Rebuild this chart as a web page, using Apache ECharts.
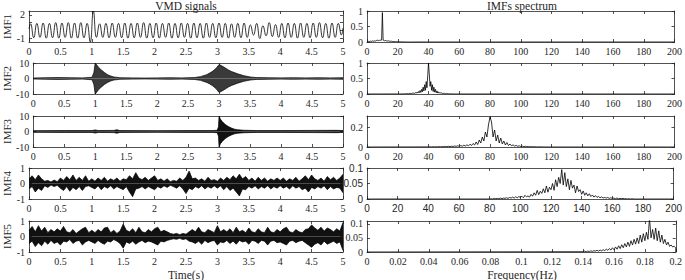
<!DOCTYPE html>
<html>
<head>
<meta charset="utf-8">
<script src="https://cdn.jsdelivr.net/npm/echarts@6/dist/echarts.min.js"></script>
<style>
  html, body { margin: 0; padding: 0; background: #fff; }
  #chart { width: 685px; height: 280px; }
</style>
</head>
<body>
<div id="chart"></div>
<script>
// ---- data ----
const timeTicks = [0, 0.5, 1, 1.5, 2, 2.5, 3, 3.5, 4, 4.5, 5];
const freqTicks = [0, 20, 40, 60, 80, 100, 120, 140, 160, 180, 200];
const normFreqTicks = [0, 0.02, 0.04, 0.06, 0.08, 0.1, 0.12, 0.14, 0.16, 0.18, 0.2];
const imfNames = ['IMF1', 'IMF2', 'IMF3', 'IMF4', 'IMF5'];

// IMF1: successive peaks / troughs, one every 0.05 s (10 Hz)
const imf1Extrema = [
  0.85, -0.95, 0.9, -0.9, 0.95, -1.0, 0.9, -0.95, 1.0, -1.0,
  0.95, -0.9, 1.0, -1.0, 0.95, -1.0, 1.0, -0.95, 0.9, -1.5,
  2.5, -0.9, 0.85, -0.9, 0.9, -0.95, 0.95, -0.9, 0.9, -0.95,
  0.95, -1.0, 0.9, -0.95, 0.95, -0.9, 1.0, -1.0, 0.9, -0.95,
  0.95, -1.0, 0.9, -0.9, 0.95, -1.0, 0.9, -0.95, 0.95, -0.9,
  0.9, -1.0, 0.95, -0.95, 0.9, -1.0, 0.95, -0.9, 0.9, -0.95,
  0.95, -0.9, 0.9, -1.0, 0.85, -0.9, 0.9, -0.95, 0.95, -0.9,
  0.7, -0.6, 0.9, -1.05, 0.6, -0.7, 1.0, -0.8, 0.75, -0.9,
  0.9, -0.95, 0.95, -0.9, 0.9, -1.0, 0.95, -0.9, 0.9, -0.95,
  0.95, -0.9, 1.0, -0.95, 0.9, -1.0, 0.95, -0.9, 0.9, -0.6
];

// IMF2 / IMF3: envelope knots (time, amplitude)
const imf2Times = [0, 0.2, 0.4, 0.6, 0.8, 0.95, 0.98, 1.0, 1.03, 1.06, 1.1, 1.15, 1.2, 1.25, 1.3, 1.4,
  1.6, 1.8, 2.0, 2.2, 2.4, 2.6, 2.7, 2.8, 2.85, 2.9, 2.95, 3.0, 3.05, 3.1, 3.15, 3.2, 3.3, 3.4, 3.5,
  3.6, 3.8, 4.0, 4.2, 4.4, 4.6, 4.8, 5.0];
const imf2Amp = [0.3, 0.5, 0.6, 0.5, 0.4, 0.8, 4, 10, 8.5, 7, 5.5, 3.8, 2.5, 1.6, 1, 0.5,
  0.4, 0.3, 0.4, 0.5, 0.4, 0.6, 1.2, 2.5, 3.5, 4.8, 6.5, 9, 8, 6.8, 5.5, 4.5, 3, 1.8, 1,
  0.6, 0.5, 0.4, 0.5, 0.4, 0.5, 0.4, 0.5];

const imf3Times = [0, 0.5, 0.95, 1.0, 1.05, 1.3, 1.35, 1.4, 2.0, 2.5, 2.9, 2.97, 2.99, 3.0, 3.02,
  3.05, 3.1, 3.15, 3.2, 3.25, 3.3, 3.4, 3.6, 4.0, 4.5, 4.9, 5.0];
const imf3Amp = [0.55, 0.6, 0.6, 1.0, 0.6, 0.7, 1.1, 0.6, 0.55, 0.6, 0.6, 0.8, 3, 10, 8,
  6.5, 4.5, 3.2, 2.2, 1.5, 1.1, 0.8, 0.6, 0.6, 0.7, 0.75, 0.6];

// IMF4 / IMF5: upper and lower envelope, one value every 0.05 s
const imf4Upper = [
  0.3, 0.5, 0.25, 0.55, 0.3, 0.15, 0.2, 0.1, 0.22, 0.12, 0.35, 0.2, 0.45, 0.25, 0.55, 0.2, 0.4, 0.2, 0.5, 0.15,
  0.3, 0.15, 0.35, 0.2, 0.4, 0.15, 0.3, 0.2, 0.35, 0.15, 0.3, 0.25, 0.5, 0.3, 0.7, 0.35, 0.25, 0.4, 0.2, 0.35,
  0.5, 0.2, 0.3, 0.15, 0.3, 0.12, 0.2, 0.15, 0.35, 0.2, 0.4, 0.8, 0.3, 0.35, 0.2, 0.3, 0.15, 0.4, 0.2, 0.25,
  0.15, 0.35, 0.2, 0.4, 0.25, 0.5, 0.3, 0.6, 0.3, 0.45, 0.2, 0.35, 0.15, 0.4, 0.2, 0.35, 0.15, 0.3, 0.2, 0.35,
  0.2, 0.35, 0.15, 0.3, 0.2, 0.4, 0.15, 0.3, 0.5, 0.25, 0.55, 0.3, 0.2, 0.35, 0.15, 0.45, 0.25, 0.4, 0.2, 0.35, 0.6
];
const imf4Lower = [
  -0.35, -0.2, -0.55, -0.3, -0.45, -0.15, -0.25, -0.1, -0.2, -0.12, -0.3, -0.45, -0.2, -0.5, -0.25, -0.4, -0.2, -0.45, -0.2, -0.15,
  -0.25, -0.35, -0.15, -0.4, -0.2, -0.3, -0.15, -0.35, -0.2, -0.3, -0.4, -0.2, -0.55, -0.85, -0.35, -0.3, -0.2, -0.35, -0.2, -0.3,
  -0.4, -0.2, -0.3, -0.15, -0.25, -0.12, -0.2, -0.3, -0.15, -0.35, -0.65, -0.3, -0.4, -0.2, -0.3, -0.15, -0.35, -0.2, -0.3, -0.15,
  -0.3, -0.15, -0.4, -0.2, -0.45, -0.3, -0.55, -0.8, -0.35, -0.4, -0.2, -0.3, -0.15, -0.35, -0.2, -0.3, -0.15, -0.35, -0.2, -0.3,
  -0.15, -0.3, -0.2, -0.35, -0.15, -0.3, -0.2, -0.4, -0.3, -0.55, -0.25, -0.35, -0.2, -0.3, -0.15, -0.4, -0.2, -0.35, -0.25, -0.3, -0.6
];
const imf5Upper = [
  0.4, 0.65, 0.3, 0.7, 0.35, 0.6, 0.25, 0.45, 0.3, 0.5, 0.35, 0.65, 0.3, 0.25, 0.45, 0.2, 0.35, 0.5, 0.6, 0.25,
  0.4, 0.25, 0.45, 0.3, 0.55, 0.6, 0.25, 0.4, 0.2, 0.35, 0.8, 0.4, 0.3, 0.5, 0.25, 0.6, 0.3, 0.25, 0.45, 0.3,
  0.5, 0.6, 0.3, 0.4, 0.3, 0.2, 0.15, 0.2, 0.12, 0.2, 0.15, 0.3, 0.45, 0.3, 0.6, 0.3, 0.25, 0.45, 0.35, 0.25,
  0.7, 0.3, 0.45, 0.3, 0.5, 0.25, 0.6, 0.3, 0.4, 0.25, 0.55, 0.3, 0.25, 0.5, 0.3, 0.25, 0.6, 0.3, 0.25, 0.45,
  0.3, 0.5, 0.6, 0.3, 0.25, 0.45, 0.3, 0.25, 0.45, 0.5, 0.75, 0.55, 0.4, 0.6, 0.35, 0.55, 0.45, 0.3, 0.5, 0.35, 0.9
];
const imf5Lower = [
  -0.45, -0.3, -0.65, -0.4, -0.6, -0.3, -0.5, -0.25, -0.45, -0.35, -0.55, -0.3, -0.35, -0.2, -0.45, -0.3, -0.25, -0.55, -0.35, -0.25,
  -0.35, -0.45, -0.25, -0.4, -0.5, -0.3, -0.35, -0.2, -0.3, -0.45, -0.75, -0.35, -0.45, -0.3, -0.5, -0.35, -0.25, -0.4, -0.3, -0.35,
  -0.45, -0.55, -0.3, -0.35, -0.25, -0.2, -0.15, -0.18, -0.12, -0.2, -0.15, -0.3, -0.35, -0.45, -0.3, -0.5, -0.25, -0.4, -0.3, -0.25,
  -0.55, -0.35, -0.4, -0.25, -0.45, -0.3, -0.5, -0.25, -0.35, -0.3, -0.5, -0.25, -0.3, -0.45, -0.25, -0.3, -0.55, -0.3, -0.25, -0.4,
  -0.35, -0.45, -0.55, -0.3, -0.25, -0.4, -0.3, -0.25, -0.4, -0.55, -0.7, -0.5, -0.4, -0.55, -0.3, -0.5, -0.4, -0.3, -0.45, -0.35, -0.9
];

// spectra: start frequency, step, magnitudes
const spec1Start = 0, spec1Step = 0.5;
const spec1Vals = [
  0, 0.01, 0.02, 0.015, 0.03, 0.02, 0.02, 0.035, 0.03, 0.02, 0.04, 0.03, 0.05, 0.04, 0.06, 0.045, 0.05, 0.07, 0.05, 0.06,
  0.95, 0.06, 0.05, 0.04, 0.05, 0.035, 0.04, 0.03, 0.04, 0.025, 0.03, 0.02, 0.025, 0.015, 0.02, 0.012, 0.015, 0.01, 0.012, 0.008,
  0.01, 0.007, 0.008, 0.005, 0.006, 0.004, 0.005, 0.003, 0.003, 0.002, 0.002, 0.001, 0.001, 0, 0, 0, 0, 0, 0, 0, 0
];
const spec2Start = 20, spec2Step = 0.5;
const spec2Vals = [
  0.002, 0.004, 0.002, 0.005, 0.003, 0.006, 0.004, 0.008, 0.005, 0.01, 0.006, 0.012, 0.008, 0.015, 0.01, 0.018, 0.012, 0.022, 0.015, 0.028,
  0.018, 0.035, 0.02, 0.045, 0.025, 0.06, 0.03, 0.08, 0.04, 0.11, 0.05, 0.15, 0.07, 0.22, 0.1, 0.3, 0.12, 0.4, 0.2, 0.6,
  1.0,
  0.65, 0.25, 0.4, 0.12, 0.3, 0.08, 0.22, 0.06, 0.15, 0.04, 0.1, 0.03, 0.07, 0.025, 0.05, 0.02, 0.04, 0.015, 0.03, 0.012,
  0.022, 0.01, 0.016, 0.008, 0.012, 0.006, 0.009, 0.005, 0.007, 0.004, 0.005, 0.003, 0.004, 0.002, 0.003, 0.002, 0.002, 0.001, 0.001, 0.001
];
const spec3Start = 40, spec3Step = 1;
const spec3Vals = [
  0.001, 0.002, 0.001, 0.003, 0.001, 0.003, 0.002, 0.004, 0.002, 0.005, 0.003, 0.006, 0.003, 0.007, 0.004, 0.008, 0.005, 0.01, 0.006, 0.012,
  0.007, 0.014, 0.008, 0.018, 0.01, 0.022, 0.012, 0.028, 0.015, 0.035, 0.02, 0.05, 0.025, 0.07, 0.04, 0.1, 0.06, 0.15, 0.1, 0.22,
  0.3,
  0.25, 0.1, 0.17, 0.06, 0.12, 0.04, 0.09, 0.03, 0.06, 0.02, 0.045, 0.015, 0.03, 0.012, 0.022, 0.009, 0.016, 0.007, 0.012, 0.005,
  0.009, 0.004, 0.007, 0.003, 0.005, 0.002, 0.004, 0.002, 0.003, 0.001, 0.002, 0.001, 0.002, 0.001, 0.001, 0, 0.001, 0, 0, 0
];
const spec4Start = 80, spec4Step = 1;
const spec4Vals = [
  0, 0.001, 0, 0.002, 0.001, 0.002, 0.001, 0.003, 0.001, 0.003, 0.002, 0.004, 0.002, 0.005, 0.003, 0.006, 0.003, 0.007, 0.004, 0.008,
  0.005, 0.009, 0.004, 0.012, 0.007, 0.01, 0.006, 0.015, 0.009, 0.02, 0.012, 0.028, 0.014, 0.025, 0.018, 0.033, 0.02, 0.042, 0.022, 0.038,
  0.03, 0.05, 0.028, 0.062, 0.04, 0.07, 0.05, 0.095, 0.045, 0.085, 0.04, 0.065, 0.03, 0.06, 0.035, 0.045, 0.02, 0.042, 0.024, 0.03,
  0.015, 0.026, 0.012, 0.02, 0.01, 0.017, 0.008, 0.013, 0.006, 0.011, 0.005, 0.008, 0.004, 0.007, 0.003, 0.005, 0.003, 0.005, 0.002, 0.004,
  0.002, 0.003, 0.001, 0.003, 0.001, 0.002, 0.001, 0.002, 0.001, 0.001, 0, 0.001, 0, 0.001, 0, 0, 0, 0, 0, 0, 0
];
const spec5Start = 0.14, spec5Step = 0.001;
const spec5Vals = [
  0.001, 0.003, 0.001, 0.003, 0.002, 0.004, 0.002, 0.005, 0.003, 0.006, 0.003, 0.007, 0.004, 0.008, 0.005, 0.01, 0.006, 0.012, 0.007, 0.015,
  0.008, 0.018, 0.01, 0.022, 0.012, 0.026, 0.015, 0.03, 0.018, 0.035, 0.02, 0.04, 0.025, 0.045, 0.028, 0.05, 0.03, 0.06, 0.035, 0.065,
  0.04, 0.07, 0.045, 0.12, 0.05, 0.08, 0.045, 0.085, 0.04, 0.075, 0.035, 0.06, 0.03, 0.045, 0.025, 0.035, 0.02, 0.025, 0.018, 0.02, 0.015
];

// ---- layout ----
const AX = '#262626';
const SERIF = 'Liberation Serif';
const SANS = 'Liberation Sans';
const rowTop = [11, 63, 116, 168, 221];
const rowH = 31;
const leftX = 29, leftW = 314;
const rightX = 367, rightW = 310;

const grids = [], xAxes = [], yAxes = [], series = [];

function addPanel(box, xr, yr, font, yName) {
  const gi = grids.length;
  grids.push({ left: box[0], top: box[1], width: box[2], height: box[3] });
  const lineStyle = { color: AX, width: 0.8 };
  const tick = vals => ({ show: true, inside: true, length: 3, lineStyle, customValues: vals });
  const label = (vals, show) => ({
    show, customValues: vals, fontFamily: font, fontSize: 10, color: AX, margin: 4,
    hideOverlap: false, showMinLabel: true, showMaxLabel: true
  });
  const xi = xAxes.length;
  ['bottom', 'top'].forEach((pos, k) => xAxes.push({
    type: 'value', gridIndex: gi, position: pos, min: xr.min, max: xr.max,
    axisLine: { show: true, onZero: false, lineStyle },
    axisTick: tick(xr.ticks), axisLabel: label(xr.ticks, k === 0),
    splitLine: { show: false }
  }));
  const yi = yAxes.length;
  ['left', 'right'].forEach((pos, k) => yAxes.push({
    type: 'value', gridIndex: gi, position: pos, min: yr.min, max: yr.max,
    name: k === 0 ? yName : '', nameLocation: 'middle', nameGap: 15, nameRotate: 90,
    nameTextStyle: { fontFamily: SERIF, fontSize: 11, color: AX },
    axisLine: { show: true, onZero: false, lineStyle },
    axisTick: tick(yr.ticks), axisLabel: label(yr.labels || yr.ticks, k === 0),
    splitLine: { show: false }
  }));
  return { x: xi, y: yi };
}

function lineSeries(ax, data, extra) {
  return Object.assign({
    type: 'line', xAxisIndex: ax.x, yAxisIndex: ax.y, data, showSymbol: false,
    animation: false, silent: true, lineStyle: { color: '#000', width: 0.8 }
  }, extra || {});
}

function bandSeries(ax, times, upper, lower, fill) {
  const st = () => ({ lineStyle: { color: '#000', width: 0.7 }, areaStyle: { color: fill, opacity: 1, origin: 0 } });
  series.push(lineSeries(ax, times.map((t, i) => [t, upper[i]]), st()));
  series.push(lineSeries(ax, times.map((t, i) => [t, lower[i]]), st()));
}

function specData(start, step, vals, end) {
  const d = vals.map((v, i) => [start + i * step, v]);
  if (start > 0) d.unshift([0, 0]);
  d.push([end, 0]);
  return d;
}

// left column: VMD signals
const tX = { min: 0, max: 5, ticks: timeTicks };
const yCfg = [
  { min: -1.5, max: 2.5, ticks: [-1, 0, 1, 2], labels: [-1, 0, 2] },
  { min: -10, max: 10, ticks: [-10, 0, 10] },
  { min: -10, max: 10, ticks: [-10, 0, 10] },
  { min: -1, max: 1, ticks: [-1, 0, 1] },
  { min: -1, max: 1, ticks: [-1, 0, 1] }
];
const leftAx = yCfg.map((yc, r) => addPanel([leftX, rowTop[r], leftW, rowH], tX, yc, SERIF, imfNames[r]));

const imf1Data = [[0, 0.2]].concat(imf1Extrema.map((v, k) => [0.025 + 0.05 * k, v]), [[5, 0.3]]);
series.push(lineSeries(leftAx[0], imf1Data, { smooth: 0.5 }));

bandSeries(leftAx[1], imf2Times, imf2Amp, imf2Amp.map(a => -a), '#3a3a3a');
bandSeries(leftAx[2], imf3Times, imf3Amp, imf3Amp.map(a => -a), '#111');
const envTimes = imf4Upper.map((_, i) => i * 0.05);
bandSeries(leftAx[3], envTimes, imf4Upper, imf4Lower, '#111');
bandSeries(leftAx[4], envTimes, imf5Upper, imf5Lower, '#111');

// right column: spectra
const fX = { min: 0, max: 200, ticks: freqTicks };
const specPanels = [
  { x: fX, y: { min: 0, max: 1, ticks: [0, 0.5, 1] }, font: SERIF, d: specData(spec1Start, spec1Step, spec1Vals, 200) },
  { x: fX, y: { min: 0, max: 1, ticks: [0, 0.5, 1] }, font: SERIF, d: specData(spec2Start, spec2Step, spec2Vals, 200) },
  { x: fX, y: { min: 0, max: 0.31, ticks: [0, 0.2] }, font: SERIF, d: specData(spec3Start, spec3Step, spec3Vals, 200) },
  { x: fX, y: { min: 0, max: 0.1, ticks: [0, 0.05, 0.1] }, font: SANS, d: specData(spec4Start, spec4Step, spec4Vals, 200) },
  { x: { min: 0, max: 0.2, ticks: normFreqTicks }, y: { min: 0, max: 0.11, ticks: [0, 0.05, 0.1] }, font: SERIF,
    d: specData(spec5Start, spec5Step, spec5Vals, 0.2) }
];
specPanels.forEach((p, r) => {
  const ax = addPanel([rightX, rowTop[r], rightW, rowH], p.x, p.y, p.font, '');
  series.push(lineSeries(ax, p.d));
});

const txt = (text, x, y) => ({
  type: 'text', x, y, silent: true,
  style: { text, fill: AX, font: '11.5px "Liberation Serif"', align: 'center', verticalAlign: 'middle' }
});

const chart = echarts.init(document.getElementById('chart'), null, { renderer: 'svg' });
chart.setOption({
  animation: false,
  backgroundColor: '#fff',
  grid: grids,
  xAxis: xAxes,
  yAxis: yAxes,
  series,
  graphic: [
    txt('VMD signals', leftX + leftW / 2, 6),
    txt('IMFs spectrum', rightX + rightW / 2, 6),
    txt('Time(s)', leftX + leftW / 2, 275),
    txt('Frequency(Hz)', rightX + rightW / 2, 275)
  ]
});
</script>
</body>
</html>
